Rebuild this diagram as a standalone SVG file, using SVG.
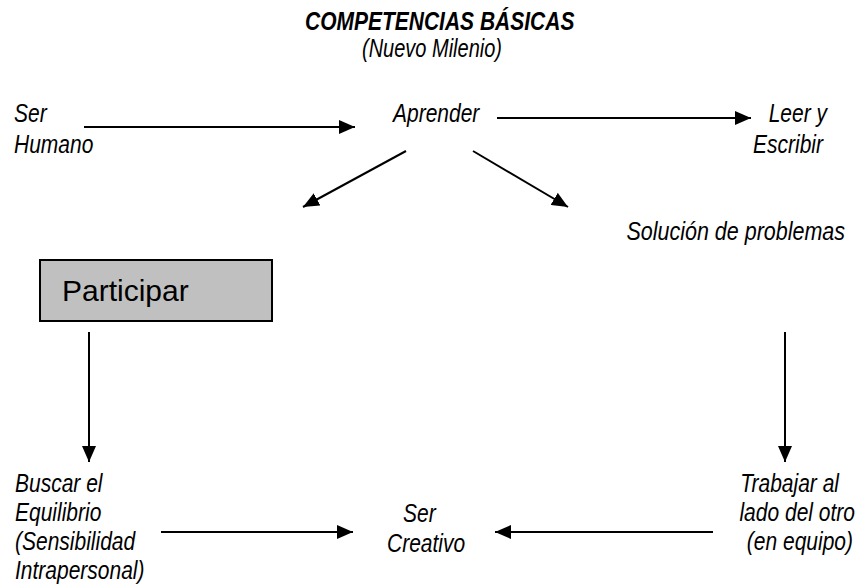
<svg xmlns="http://www.w3.org/2000/svg" width="856" height="587" viewBox="0 0 856 587">
  <style>
    .t { font-family: "Liberation Sans", Arial, sans-serif; font-style: italic; font-size: 25px; fill: #000; }
    .title { font-weight: bold; }
    .e { text-anchor: end; }
    .m { text-anchor: middle; }
    .box { fill: #c0c0c0; stroke: #000; stroke-width: 2; }
    .boxtext { font-family: "Liberation Sans", Arial, sans-serif; font-size: 30px; fill: #000; }
    .conn line { stroke: #000; stroke-width: 2; marker-end: url(#arrow); }
  </style>
  <defs>
    <marker id="arrow" viewBox="0 0 16 14" refX="16" refY="7" markerWidth="16" markerHeight="14" markerUnits="userSpaceOnUse" orient="auto">
      <path d="M0,0 L16,7 L0,14 z" fill="#000"/>
    </marker>
  </defs>
  <rect width="856" height="587" fill="#fff"/>

  <g id="title">
    <text class="t title" transform="translate(305,30) scale(0.84,1)">COMPETENCIAS BÁSICAS</text>
    <text class="t m" transform="translate(432,57) scale(0.8,1)">(Nuevo Milenio)</text>
  </g>

  <g id="ser-humano">
    <text class="t" transform="translate(14,122) scale(0.84,1)">Ser</text>
    <text class="t" transform="translate(14,153) scale(0.84,1)">Humano</text>
  </g>

  <g id="aprender">
    <text class="t" transform="translate(393,122) scale(0.84,1)">Aprender</text>
  </g>

  <g id="leer-escribir">
    <text class="t e" transform="translate(827,122) scale(0.84,1)">Leer y</text>
    <text class="t e" transform="translate(823,153) scale(0.84,1)">Escribir</text>
  </g>

  <g id="solucion">
    <text class="t e" transform="translate(845,240) scale(0.86,1)">Solución de problemas</text>
  </g>

  <g id="participar">
    <rect class="box" x="40" y="260" width="232" height="61"/>
    <text class="boxtext" x="62" y="301">Participar</text>
  </g>

  <g id="buscar">
    <text class="t" transform="translate(15,492) scale(0.84,1)">Buscar el</text>
    <text class="t" transform="translate(15,521) scale(0.84,1)">Equilibrio</text>
    <text class="t" transform="translate(15,550) scale(0.84,1)">(Sensibilidad</text>
    <text class="t" transform="translate(15,579) scale(0.84,1)">Intrapersonal)</text>
  </g>

  <g id="ser-creativo">
    <text class="t" transform="translate(403,522) scale(0.84,1)">Ser</text>
    <text class="t" transform="translate(387,552) scale(0.84,1)">Creativo</text>
  </g>

  <g id="trabajar">
    <text class="t e" transform="translate(839,492) scale(0.84,1)">Trabajar al</text>
    <text class="t e" transform="translate(855,521) scale(0.84,1)">lado del otro</text>
    <text class="t e" transform="translate(853,550) scale(0.84,1)">(en equipo)</text>
  </g>

  <g id="connectors" class="conn">
    <line x1="84" y1="127" x2="355" y2="127"/>
    <line x1="497" y1="118" x2="751" y2="118"/>
    <line x1="406" y1="151" x2="303" y2="207"/>
    <line x1="473" y1="151" x2="568" y2="207"/>
    <line x1="89" y1="332" x2="89" y2="462"/>
    <line x1="785" y1="332" x2="785" y2="462"/>
    <line x1="161" y1="532" x2="353" y2="532"/>
    <line x1="713" y1="532" x2="495" y2="532"/>
  </g>
</svg>
